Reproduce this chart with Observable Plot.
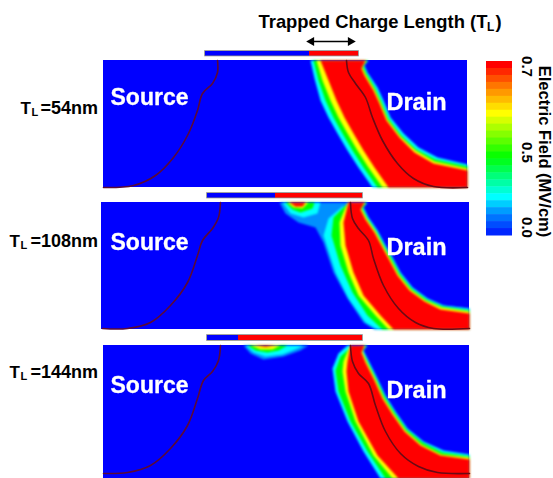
<!DOCTYPE html>
<html><head><meta charset="utf-8">
<script src="https://cdn.jsdelivr.net/npm/d3@7"></script>
<script src="https://cdn.jsdelivr.net/npm/@observablehq/plot@0.6"></script>
<style>html,body{margin:0;padding:0;background:#fff}svg{display:block}</style>
</head><body><div id="chart"></div>
<script>
// Field levels (0 = blue … 1 = red) and their colours
const levelStops = [0, 0.15, 0.24, 0.47, 0.72, 0.87, 1];
const levelColors = ["#0000ff", "#0090ff", "#00ffff", "#00ff00", "#ffff00", "#ff8000", "#ff0000"];
const SKY = 0.15, CYAN = 0.24, GREEN = 0.47, YELLOW = 0.72, RED = 1;
const colorbarLevels = [1,.96,.92,.88,.84,.8,.76,.72,.68,.64,.6,.56,.52,.48,.44,.4,.36,.32,.28,.24,.2,.16,.12,.08,.04];

// Panel frames
const panelLeft = [103, 101, 103];
const panelRight = [467, 469, 469];
const panelTop = [60, 202, 345];
const panelBottom = [187, 329, 478];

// Gate bars
const barStart = [205, 207, 207];
const barSplit = [309, 275, 238];
const barEnd = [358, 362, 362];
const barTop = [51, 193, 335];
const barBottom = [55.5, 197.5, 340];

// Panel 1 contours
const p1CyanL = [[310,60],[314,78],[320,100],[328,117],[337,133],[347,150],[358,167],[372,187]];
const p1GreenL = [[313,60],[318,80],[325,100],[333,117],[342,133],[352,150],[363,167],[377,187]];
const p1YellowL = [[316,60],[322,80],[330,100],[338,117],[347,133],[357,150],[368,167],[382,187]];
const p1RedL = [[320,60],[328,80],[336,100],[344,117],[353,133],[363,150],[374,167],[388,187]];
const p1CyanR = [[368,60],[364,65],[367,72],[377,87],[383,100],[390,117],[403,133],[418,147],[437,157],[467,164]];
const p1GreenR = [[367,60],[363,66],[366,73],[375,88],[381,101],[388,118],[401,135],[416,149],[435,159],[467,166]];
const p1YellowR = [[366,60],[362,67],[365,74],[374,89],[380,102],[387,119],[400,136],[415,150],[434,161],[467,168]];
const p1RedR = [[365,60],[361,68],[364,75],[373,90],[379,103],[386,120],[399,137],[414,152],[433,163],[467,170]];
const p1Source = [[217,60],[217,72],[212,83],[202,93],[197,110],[188,133],[173,157],[155,175],[133,185],[103,187]];
const p1Drain = [[346,60],[348,72],[355,83],[365,97],[372,117],[382,140],[397,163],[413,178],[433,186],[467,187]];

// Panel 2 contours
const p2SkyL = [[279,202],[285,213],[298,222],[315,227],[323,242],[333,272],[347,298],[363,322],[374,329]];
const p2CyanL = [[342,206],[328,218],[323,235],[335,272],[348,298],[365,322],[377,329]];
const p2GreenL = [[345,205],[333,217],[331,235],[340,265],[352,292],[367,315],[382,329]];
const p2YellowL = [[347,202],[339,222],[340,245],[348,272],[358,295],[375,315],[388,329]];
const p2RedL = [[348,202],[343,222],[345,245],[353,272],[363,295],[380,315],[393,329]];
const p2CyanR = [[367,202],[363,207],[368,217],[377,230],[385,245],[392,257],[400,272],[412,287],[427,298],[443,305],[469,308]];
const p2GreenR = [[366,202],[362,208],[367,218],[376,231],[384,246],[391,258],[399,273],[411,288],[426,299],[442,306],[469,310]];
const p2YellowR = [[365,202],[361,208],[366,218],[375,231],[383,246],[390,259],[398,274],[410,289],[425,300],[441,307],[469,311]];
const p2RedR = [[364,202],[360,209],[365,219],[374,232],[382,247],[389,260],[397,275],[409,290],[424,301],[440,309],[469,313]];
const p2BlobCyan = [[282,202],[290,213],[303,217],[317,213],[320,202]];
const p2BlobGreen = [[285,202],[292,209],[300,212],[312,208],[314,202]];
const p2BlobYellow = [[287,202],[293,207],[302,208],[308,202]];
const p2BlobRed = [[289,202],[295,206],[302,206],[305,202]];
const p2Source = [[220,202],[218,217],[212,228],[202,240],[197,255],[187,282],[170,305],[150,322],[127,328],[102,328]];
const p2Drain = [[350,202],[352,218],[358,228],[368,240],[373,258],[383,285],[398,308],[415,322],[433,328],[469,328]];

// Panel 3 contours
const p3CyanL = [[347,345],[338,353],[332,368],[335,391],[347,421],[363,451],[380,478]];
const p3GreenL = [[349,348],[340,356],[335,370],[338,391],[350,421],[367,451],[385,478]];
const p3YellowL = [[349,346],[343,361],[342,371],[345,391],[355,421],[373,455],[392,478]];
const p3RedL = [[350,345],[347,361],[346,371],[348,391],[358,421],[377,455],[398,478]];
const p3CyanR = [[367,345],[363,350],[368,360],[377,378],[385,395],[395,411],[407,428],[423,441],[443,450],[469,454]];
const p3GreenR = [[366,345],[362,351],[367,361],[376,379],[384,396],[394,412],[406,429],[422,442],[442,452],[469,456]];
const p3YellowR = [[365,345],[362,351],[366,361],[375,379],[383,397],[393,413],[405,430],[421,444],[441,454],[469,457]];
const p3RedR = [[364,345],[361,352],[365,362],[374,380],[382,398],[392,414],[404,431],[420,445],[440,455],[469,459]];
const p3BlobSky = [[243,345],[250,353],[263,359],[283,356],[300,350],[308,345]];
const p3BlobCyan = [[245,345],[253,352],[265,356],[282,354],[297,348],[303,345]];
const p3BlobGreen = [[247,345],[255,350],[267,352],[278,350],[287,345]];
const p3BlobYellow = [[250,345],[260,349],[272,349],[280,345]];
const p3BlobRed = [[255,345],[265,346.5],[275,345]];
const p3Source = [[220,345],[218,360],[212,371],[203,380],[197,398],[187,425],[170,448],[150,465],[127,472],[103,473]];
const p3Drain = [[350,345],[352,361],[358,373],[368,383],[375,405],[385,431],[400,453],[418,466],[437,472],[469,473]];

// Text
const rowLabels = ["=54nm", "=108nm", "=144nm"];
const rowLabelY = [108, 241, 372];
const rowTX = [20, 9, 9];
const sourceY = [97, 242, 385];
const drainY = [102, 247, 390];
const colorbarTicks = ["0.7", "0.5", "0.0"];
const colorbarTickY = [66, 152, 227];

// Build closed shapes from the edges
const shapes = [];
function add(id, level, pts) { for (const [x, y] of pts) shapes.push({id, level, x, y}); }
function plume(id, level, right, left, rx, by) {
  add(id, level, [...right, [rx, by], ...left.slice().reverse()]);
}
plume("p1c", CYAN, p1CyanR, p1CyanL, 467, 187);
plume("p1g", GREEN, p1GreenR, p1GreenL, 467, 187);
plume("p1y", YELLOW, p1YellowR, p1YellowL, 467, 187);
plume("p1r", RED, p1RedR, p1RedL, 467, 187);
plume("p2s", SKY, p2CyanR, p2SkyL, 469, 329);
add("p2bc", CYAN, p2BlobCyan);
add("p2bg", GREEN, p2BlobGreen);
add("p2by", YELLOW, p2BlobYellow);
add("p2br", RED, p2BlobRed);
plume("p2c", CYAN, p2CyanR, p2CyanL, 469, 329);
plume("p2g", GREEN, p2GreenR, p2GreenL, 469, 329);
plume("p2y", YELLOW, p2YellowR, p2YellowL, 469, 329);
plume("p2r", RED, p2RedR, p2RedL, 469, 329);
add("p3bs", SKY, p3BlobSky);
add("p3bc", CYAN, p3BlobCyan);
add("p3bg", GREEN, p3BlobGreen);
add("p3by", YELLOW, p3BlobYellow);
add("p3br", RED, p3BlobRed);
plume("p3c", CYAN, p3CyanR, p3CyanL, 469, 478);
plume("p3g", GREEN, p3GreenR, p3GreenL, 469, 478);
plume("p3y", YELLOW, p3YellowR, p3YellowL, 469, 478);
plume("p3r", RED, p3RedR, p3RedL, 469, 478);

const junctions = [];
[["a",p1Source,"#5a0a38"],["b",p1Drain,"#6a0a14"],["c",p2Source,"#5a0a38"],["d",p2Drain,"#6a0a14"],["e",p3Source,"#5a0a38"],["f",p3Drain,"#6a0a14"]]
  .forEach(([id, pts, col]) => pts.forEach(([x, y]) => junctions.push({id, x, y, col})));

const idx = [0, 1, 2];
const font = "Liberation Sans, Arial, sans-serif";
const cbTop = 61, cbBottom = 235;
const cbRows = colorbarLevels.map((level, i) => ({
  level,
  y1: cbTop + (cbBottom - cbTop) * i / colorbarLevels.length,
  y2: cbTop + (cbBottom - cbTop) * (i + 1) / colorbarLevels.length + 0.5
}));

const lbl = (data, opts) => Plot.text(data, {fontFamily: font, fontWeight: "bold", ...opts});

const chart = Plot.plot({
  width: 553, height: 478,
  margin: 0,
  x: {domain: [0, 553], range: [0, 553], axis: null},
  y: {domain: [0, 478], range: [0, 478], axis: null},
  color: {type: "linear", domain: levelStops, range: levelColors},
  style: {background: "#fff", fontFamily: font},
  marks: [
    // panels and field
    Plot.rect(idx, {x1: i => panelLeft[i], x2: i => panelRight[i], y1: i => panelTop[i], y2: i => panelBottom[i], fill: () => 0, imageFilter: "blur(0.5px)"}),
    Plot.line(shapes, {x: "x", y: "y", z: "id", fill: "level", stroke: "none", imageFilter: "blur(1.2px)"}),
    Plot.line(junctions, {x: "x", y: "y", z: "id", stroke: "col", strokeWidth: 1.6, curve: "catmull-rom", imageFilter: "blur(0.3px)"}),
    // gate bars
    Plot.rect(idx, {x1: i => barStart[i], x2: i => barEnd[i], y1: i => barTop[i], y2: i => barBottom[i], fill: "none", stroke: "#8a8a8a", strokeWidth: 1.6, imageFilter: "blur(0.4px)"}),
    Plot.rect(idx, {x1: i => barStart[i], x2: i => barSplit[i], y1: i => barTop[i], y2: i => barBottom[i], fill: () => 0, imageFilter: "blur(0.3px)"}),
    Plot.rect(idx, {x1: i => barSplit[i], x2: i => barEnd[i], y1: i => barTop[i], y2: i => barBottom[i], fill: () => 1, imageFilter: "blur(0.3px)"}),
    // arrow
    Plot.link([0], {x1: () => 311, x2: () => 350, y1: () => 41, y2: () => 41, stroke: "#000", strokeWidth: 1.5}),
    Plot.dot([0], {x: () => 311, y: () => 41, symbol: "triangle", r: 3.4, fill: "#000", rotate: -90}),
    Plot.dot([0], {x: () => 350, y: () => 41, symbol: "triangle", r: 3.4, fill: "#000", rotate: 90}),
    // colour bar
    Plot.rect(cbRows, {x1: () => 486, x2: () => 512, y1: "y1", y2: "y2", fill: "level", imageFilter: "blur(0.5px)"}),
    // text
    lbl(["Trapped Charge Length (T"], {x: () => 258, y: () => 22, text: d => d, textAnchor: "start", fontSize: 18.4, fill: "#000"}),
    lbl(["L"], {x: () => 486.5, y: () => 27, text: d => d, textAnchor: "start", fontSize: 12, fill: "#000"}),
    lbl([")"], {x: () => 495, y: () => 22, text: d => d, textAnchor: "start", fontSize: 18.4, fill: "#000"}),
    lbl(idx, {x: i => rowTX[i], y: i => rowLabelY[i], text: () => "T", textAnchor: "start", fontSize: 17, fill: "#000"}),
    lbl(idx, {x: i => rowTX[i] + 11, y: i => rowLabelY[i] + 4, text: () => "L", textAnchor: "start", fontSize: 11, fill: "#000"}),
    lbl(idx, {x: () => 97.5, y: i => rowLabelY[i], text: i => rowLabels[i], textAnchor: "end", fontSize: 18, fill: "#000"}),
    lbl(idx, {x: () => 110, y: i => sourceY[i], text: () => "Source", textAnchor: "start", fontSize: 23, fill: "#fff", stroke: "#fff", strokeWidth: 0.3, imageFilter: "blur(0.4px)"}),
    lbl(idx, {x: () => 386, y: i => drainY[i], text: () => "Drain", textAnchor: "start", fontSize: 23.5, fill: "#fff", stroke: "#fff", strokeWidth: 0.3, imageFilter: "blur(0.4px)"}),
    lbl(idx, {x: () => 526, y: i => colorbarTickY[i], text: i => colorbarTicks[i], rotate: 90, fontSize: 15, fill: "#000"}),
    lbl(["Electric Field (MV/cm)"], {x: () => 544, y: () => 151, text: d => d, rotate: 90, fontSize: 16.5, fill: "#000"})
  ]
});
document.getElementById("chart").append(chart);
</script></body></html>
